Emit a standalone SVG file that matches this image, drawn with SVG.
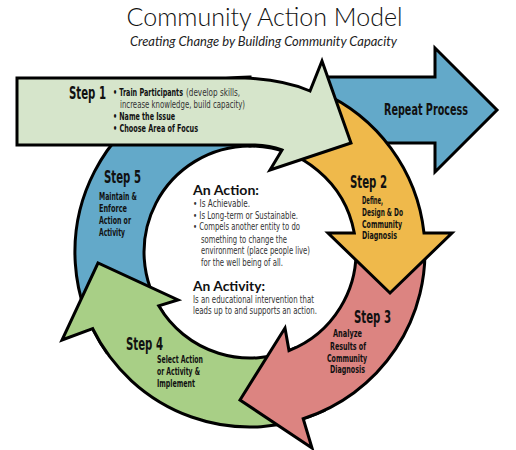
<svg xmlns="http://www.w3.org/2000/svg" width="516" height="450" viewBox="0 0 516 450">
<style>
.sh{stroke:#000;stroke-width:3;stroke-linejoin:miter;stroke-miterlimit:10}
.g1{fill:#d6e5cb}.bl{fill:#63a9c9}.ye{fill:#efb94b}.pk{fill:#dc8481}.g4{fill:#a8cf86}
.cn{font-family:'Liberation Sans Narrow','DejaVu Sans Condensed','Roboto Condensed','Liberation Sans',sans-serif;font-stretch:condensed}
.st{font-size:17.5px;font-weight:bold;fill:#111}
.sd{font-size:10.5px;font-weight:bold;fill:#111}
.bd{font-size:10.5px;fill:#333;font-weight:normal}
.s1{font-size:10px}
.hd{font-family:Lato,'Open Sans',sans-serif;font-size:14px;font-weight:bold;fill:#111}
</style>
<rect width="516" height="450" fill="#fff"/>
<g id="title">
<text x="264.5" y="26" font-family="Lato,'Open Sans',sans-serif" font-size="25" font-weight="300" fill="#111" text-anchor="middle" textLength="276" lengthAdjust="spacingAndGlyphs">Community Action Model</text>
<text x="263.5" y="46" font-family="Lato,'Open Sans',sans-serif" font-size="12.5" font-style="italic" fill="#222" text-anchor="middle" textLength="267" lengthAdjust="spacingAndGlyphs">Creating Change by Building Community Capacity</text>
</g>
<g id="connectors">
<path id="repeat" class="sh bl" d="M318,77 L435,77 L435,48 L497,110 L435,172 L435,143 L318,143 Z"/>
<path id="step5-shape" class="sh bl" d="M106.6,352.4 A175,175 0 0 1 250,77 L250,146 A106,106 0 0 0 163.2,312.8 Z"/>
<path id="step4-shape" class="sh g4" d="M294.8,348.1 A106,106 0 0 1 158.7,305.8 L178,300 L98,263 L62,340 L92.7,328.7 A175,175 0 0 0 324,410.6 Z"/>
<path id="step3-shape" class="sh pk" d="M355.6,242.8 A106,106 0 0 1 289,350.6 L285,328 L240,400 L312,448 L303.2,418.7 A175,175 0 0 0 424.3,236.7 Z"/>
<path id="step2-shape" class="sh ye" d="M250,146 A106,106 0 0 1 354.3,233 L328,233 L390,293 L452,233 L424,233 A175,175 0 0 0 320,91.6 L290,105 L250,120 Z"/>
<path id="step1-shape" class="sh g1" d="M17,78 L245,78 Q285,80 310,91 L322,61 L351,143 L270,170 L282,150 Q270,145.5 255,145 L17,145 Z"/>
</g>
<g id="repeat-label">
<text class="cn" x="384" y="115" font-size="15" font-weight="bold" fill="#111" textLength="84" lengthAdjust="spacingAndGlyphs">Repeat Process</text>
</g>
<g id="step1">
<text class="cn st" transform="translate(69,99) scale(0.72,1)" x="0" y="0" font-size="17.5" textLength="51.4" lengthAdjust="spacingAndGlyphs">Step 1</text>
<text class="cn sd" transform="translate(113,95.5) scale(0.7,1)" x="0" y="0" font-size="10" textLength="100" lengthAdjust="spacingAndGlyphs">• Train Participants</text>
<text class="cn bd s1" x="186" y="95.5" textLength="54" lengthAdjust="spacingAndGlyphs">(develop skills,</text>
<text class="cn bd s1" x="120" y="107.8" textLength="125" lengthAdjust="spacingAndGlyphs">increase knowledge, build capacity)</text>
<text class="cn sd s1" x="113" y="119.5" textLength="62" lengthAdjust="spacingAndGlyphs">• Name the Issue</text>
<text class="cn sd s1" x="113" y="131.5" textLength="85" lengthAdjust="spacingAndGlyphs">• Choose Area of Focus</text>
</g>
<g id="step2">
<text class="cn st" x="350" y="188" textLength="37" lengthAdjust="spacingAndGlyphs">Step 2</text>
<text class="cn sd" x="362" y="204" textLength="21" lengthAdjust="spacingAndGlyphs">Define,</text>
<text class="cn sd" x="362" y="216" textLength="41" lengthAdjust="spacingAndGlyphs">Design &amp; Do</text>
<text class="cn sd" x="362" y="227.5" textLength="40" lengthAdjust="spacingAndGlyphs">Community</text>
<text class="cn sd" x="362" y="239" textLength="35" lengthAdjust="spacingAndGlyphs">Diagnosis</text>
</g>
<g id="step3">
<text class="cn st" x="354" y="323" textLength="37" lengthAdjust="spacingAndGlyphs">Step 3</text>
<text class="cn sd" x="333" y="337" textLength="29" lengthAdjust="spacingAndGlyphs">Analyze</text>
<text class="cn sd" x="330" y="349.5" textLength="36" lengthAdjust="spacingAndGlyphs">Results of</text>
<text class="cn sd" x="327" y="361.5" textLength="40" lengthAdjust="spacingAndGlyphs">Community</text>
<text class="cn sd" x="330" y="373" textLength="35" lengthAdjust="spacingAndGlyphs">Diagnosis</text>
</g>
<g id="step4">
<text class="cn st" x="126" y="350" textLength="37" lengthAdjust="spacingAndGlyphs">Step 4</text>
<text class="cn sd" x="157" y="363" textLength="46" lengthAdjust="spacingAndGlyphs">Select Action</text>
<text class="cn sd" x="157" y="375" textLength="43" lengthAdjust="spacingAndGlyphs">or Activity &amp;</text>
<text class="cn sd" x="157" y="387" textLength="38" lengthAdjust="spacingAndGlyphs">Implement</text>
</g>
<g id="step5">
<text class="cn st" x="104" y="183" textLength="37" lengthAdjust="spacingAndGlyphs">Step 5</text>
<text class="cn sd" x="99" y="200" textLength="38" lengthAdjust="spacingAndGlyphs">Maintain &amp;</text>
<text class="cn sd" x="99" y="212" textLength="28" lengthAdjust="spacingAndGlyphs">Enforce</text>
<text class="cn sd" x="99" y="224" textLength="32" lengthAdjust="spacingAndGlyphs">Action or</text>
<text class="cn sd" x="99" y="236" textLength="26" lengthAdjust="spacingAndGlyphs">Activity</text>
</g>
<g id="center">
<text class="hd" x="193" y="195" textLength="66" lengthAdjust="spacingAndGlyphs">An Action:</text>
<text class="cn bd" x="193" y="207" textLength="57" lengthAdjust="spacingAndGlyphs">• Is Achievable.</text>
<text class="cn bd" x="193" y="218.5" textLength="105" lengthAdjust="spacingAndGlyphs">• Is Long-term or Sustainable.</text>
<text class="cn bd" x="193" y="230" textLength="107" lengthAdjust="spacingAndGlyphs">• Compels another entity to do</text>
<text class="cn bd" x="201" y="242.5" textLength="86" lengthAdjust="spacingAndGlyphs">something to change the</text>
<text class="cn bd" x="201" y="254" textLength="109" lengthAdjust="spacingAndGlyphs">environment (place people live)</text>
<text class="cn bd" x="201" y="266" textLength="82" lengthAdjust="spacingAndGlyphs">for the well being of all.</text>
<text class="hd" x="193" y="291" textLength="72" lengthAdjust="spacingAndGlyphs">An Activity:</text>
<text class="cn bd" x="193" y="302.5" textLength="121" lengthAdjust="spacingAndGlyphs">Is an educational intervention that</text>
<text class="cn bd" x="193" y="314" textLength="124" lengthAdjust="spacingAndGlyphs">leads up to and supports an action.</text>
</g>
</svg>
